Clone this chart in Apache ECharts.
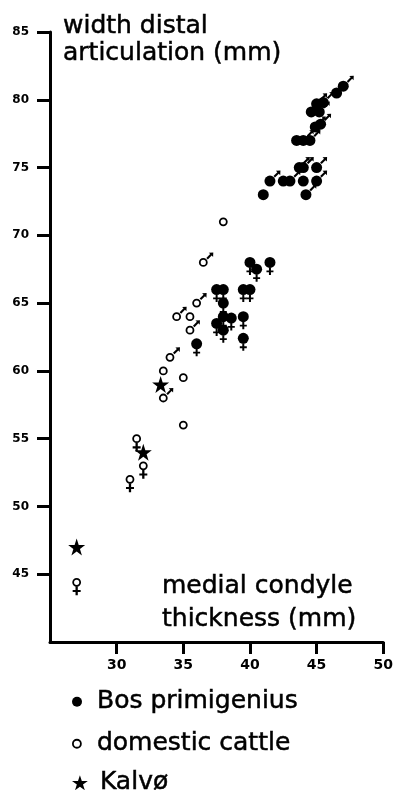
<!DOCTYPE html>
<html><head><meta charset="utf-8">
<script src="https://cdn.jsdelivr.net/npm/echarts@6/dist/echarts.min.js"></script>
<style>html,body{margin:0;padding:0;background:#fff}#c{width:396px;height:790px}</style>
</head><body><div id="c"></div>
<script>
// Tick labels
const xTicks = [30, 35, 40, 45, 50];
const yTicks = [45, 50, 55, 60, 65, 70, 75, 80, 85];

// Bos primigenius (filled circles) — [medial condyle thickness, width distal articulation]
const bosMale = [[47,81],[46.5,80.5],[45,79.7],[45.5,79.8],[45.2,79.1],[45.3,78.2],[44.9,78],
  [44,77],[44.5,77],[43.7,75],[44,75],[45,75],[41.5,74],[43,74],[45,74],[44.2,73]];
const bosFemale = [[40,68],[40.5,67.5],[41.5,68],[37.5,66],[38,66],[39.5,66],[40,66],[38,65],
  [38,64],[38.6,63.9],[37.5,63.5],[38,63],[39.5,64],[39.5,62.4],[36,62]];
const bosUnsexed = [[44.6,79.1],[43.5,77],[42.5,74],[44,74],[41,73]];

// domestic cattle (open circles)
const domMale = [[36.5,68],[36,65],[34.5,64],[35.5,63],[34,61],[33.5,58]];
const domFemale = [[31.5,55],[32,53],[31,52],[27,44.4]];
const domUnsexed = [[38,71],[35.5,64],[33.5,60],[35,59.5],[35,56]];

// Kalvø (stars)
const kalvo = [[27,47],[32,54],[33.3,59]];

const FONT = 'DejaVu Sans';
const MALE = 'path://M100 0 L35 3 L55.5 23.5 L0 78 L22 100 L76.5 44.5 L97 65 Z';
const FEMALE = 'path://M25 0 L45 0 L45 30 L70 30 L70 48 L45 48 L45 75 L25 75 L25 48 L0 48 L0 30 L25 30 Z';
const STAR = 'path://M50 0 L61.8 35.1 L98.9 35.1 L69 57.3 L80.3 92.7 L50 70.8 L19.7 92.7 L31 57.3 L1.1 35.1 L38.2 35.1 Z';

const chart = echarts.init(document.getElementById('c'), null, {renderer: 'canvas'});
const legendText = {fontFamily: FONT, fontSize: 25, color: '#000', textBorderColor: '#000', textBorderWidth: 0.5};
const titleText = {fontFamily: FONT, fontSize: 25, fontWeight: 'normal', color: '#000', textBorderColor: '#000', textBorderWidth: 0.5};
const openStyle = {color: '#fff', borderColor: '#000', borderWidth: 1.8, opacity: 1};
const solid = {color: '#000', opacity: 1};

chart.setOption({
  backgroundColor: '#fff',
  animation: false,
  title: [
    {text: 'width distal\narticulation (mm)', left: 63, top: 13, padding: 0,
     textStyle: Object.assign({lineHeight: 27}, titleText)},
    {text: 'medial condyle\nthickness (mm)', left: 162, top: 570, padding: 0,
     textStyle: Object.assign({lineHeight: 33}, titleText)}
  ],
  legend: [
    {data: [{name: 'Bos primigenius', icon: 'circle', itemStyle: solid}], left: 72, top: 689, padding: 0,
     itemWidth: 30, itemHeight: 10, selectedMode: false, textStyle: legendText},
    {data: [{name: 'domestic cattle', icon: 'circle', itemStyle: openStyle}], left: 72, top: 731, padding: 0,
     itemWidth: 30, itemHeight: 8, selectedMode: false, textStyle: legendText},
    {data: [{name: 'Kalvø', icon: STAR, itemStyle: solid}], left: 72, top: 770, padding: 0,
     itemWidth: 30, itemHeight: 15, selectedMode: false, textStyle: legendText}
  ],
  grid: {left: 50, right: 11, top: 32, bottom: 148},
  xAxis: {
    type: 'value', min: 25, max: 50, interval: 5,
    axisLine: {show: true, onZero: false, lineStyle: {color: '#000', width: 3}},
    axisTick: {show: true, customValues: xTicks, length: 12, lineStyle: {color: '#000', width: 3}},
    axisLabel: {customValues: xTicks, margin: 16, fontFamily: FONT, fontWeight: 'bold', fontSize: 14, color: '#000'},
    splitLine: {show: false}
  },
  yAxis: {
    type: 'value', min: 40, max: 85, interval: 5,
    axisLine: {show: true, onZero: false, lineStyle: {color: '#000', width: 3}},
    axisTick: {show: true, customValues: yTicks, length: 13, lineStyle: {color: '#000', width: 3}},
    axisLabel: {customValues: yTicks, margin: 21, fontFamily: FONT, fontWeight: 'bold', fontSize: 12, color: '#000'},
    splitLine: {show: false}
  },
  series: [
    {name: 'Bos primigenius', type: 'scatter', data: bosMale.concat(bosFemale, bosUnsexed),
     symbol: 'circle', symbolSize: 11, itemStyle: solid, z: 3},
    {name: 'domestic cattle', type: 'scatter', data: domMale.concat(domFemale, domUnsexed),
     symbol: 'circle', symbolSize: 7, itemStyle: openStyle, z: 3},
    {name: 'Kalvø', type: 'scatter', data: kalvo, symbol: STAR, symbolSize: 17,
     itemStyle: solid, z: 4},
    {name: 'Bos male', type: 'scatter', data: bosMale, symbol: MALE, symbolSize: [7, 7],
     symbolOffset: [7, -7], itemStyle: solid, silent: true, z: 2},
    {name: 'Bos female', type: 'scatter', data: bosFemale, symbol: FEMALE, symbolSize: [7, 7.5],
     symbolOffset: [0, 8.75], itemStyle: solid, silent: true, z: 2},
    {name: 'domestic male', type: 'scatter', data: domMale, symbol: MALE, symbolSize: [7, 7],
     symbolOffset: [6.5, -6.5], itemStyle: solid, silent: true, z: 2},
    {name: 'domestic female', type: 'scatter', data: domFemale, symbol: FEMALE, symbolSize: [8, 9],
     symbolOffset: [0, 8.5], itemStyle: solid, silent: true, z: 2}
  ]
});
</script>
</body></html>
